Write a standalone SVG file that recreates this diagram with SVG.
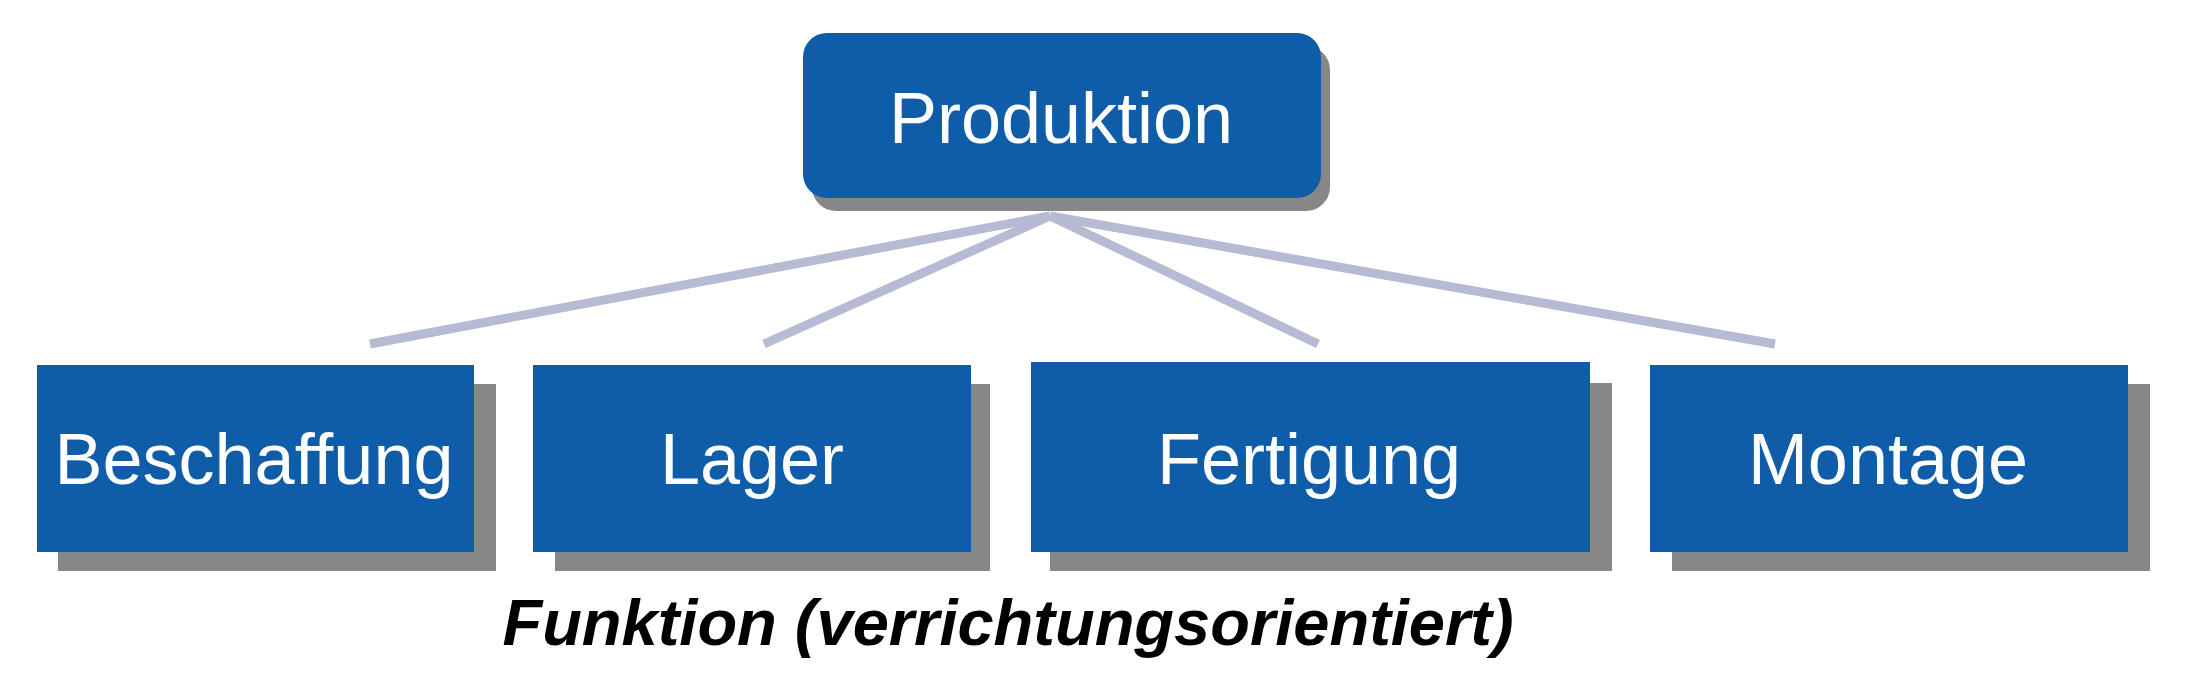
<svg xmlns="http://www.w3.org/2000/svg" width="2187" height="674" viewBox="0 0 2187 674">
  <style>
    .box { fill: #0f5ca8; }
    .shadow { fill: #878787; }
    .label { font-family: "Liberation Sans", Arial, sans-serif; font-size: 72px; fill: #ffffff; text-anchor: middle; }
    .conn { stroke: #b7bad3; stroke-width: 9; fill: none; stroke-linecap: butt; }
    .caption { font-family: "Liberation Sans", Arial, sans-serif; font-size: 65px; font-weight: bold; font-style: italic; fill: #000000; text-anchor: middle; }
  </style>
  <rect x="0" y="0" width="2187" height="674" fill="#ffffff"/>
  <g id="connectors">
    <line class="conn" x1="1050" y1="216" x2="370" y2="344"/>
    <line class="conn" x1="1050" y1="216" x2="764" y2="344"/>
    <line class="conn" x1="1050" y1="216" x2="1318" y2="344"/>
    <line class="conn" x1="1050" y1="216" x2="1775" y2="344"/>
  </g>
  <g id="node-produktion">
    <rect class="shadow" x="812" y="46" width="518" height="165" rx="24" ry="24"/>
    <rect class="box" x="803" y="33" width="518" height="165" rx="24" ry="24"/>
    <text class="label" x="1061" y="143">Produktion</text>
  </g>
  <g id="node-beschaffung">
    <rect class="shadow" x="58" y="384" width="438" height="187"/>
    <rect class="box" x="37" y="365" width="437" height="187"/>
    <text class="label" x="254" y="484">Beschaffung</text>
  </g>
  <g id="node-lager">
    <rect class="shadow" x="555" y="384" width="435" height="187"/>
    <rect class="box" x="533" y="365" width="438" height="187"/>
    <text class="label" x="752" y="484">Lager</text>
  </g>
  <g id="node-fertigung">
    <rect class="shadow" x="1050" y="383" width="562" height="188"/>
    <rect class="box" x="1031" y="362" width="559" height="190"/>
    <text class="label" x="1309" y="484">Fertigung</text>
  </g>
  <g id="node-montage">
    <rect class="shadow" x="1672" y="384" width="478" height="187"/>
    <rect class="box" x="1650" y="365" width="478" height="187"/>
    <text class="label" x="1888" y="484">Montage</text>
  </g>
  <g id="caption">
    <text class="caption" x="1008" y="645">Funktion (verrichtungsorientiert)</text>
  </g>
</svg>
